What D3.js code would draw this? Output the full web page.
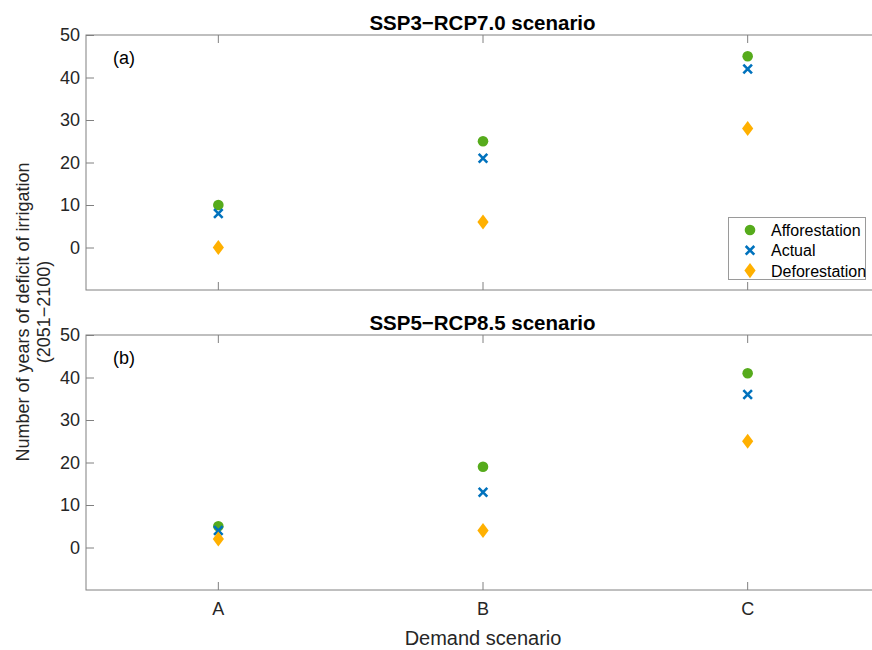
<!DOCTYPE html>
<html>
<head>
<meta charset="utf-8">
<script src="https://cdn.jsdelivr.net/npm/d3@7"></script>
<style>
  html, body { margin: 0; padding: 0; background: #fff; }
  svg { display: block; font-family: "Liberation Sans", Arial, Helvetica, sans-serif; }
</style>
</head>
<body>
<svg id="chart" width="872" height="650"></svg>
<script>
// Demand scenarios on the x axis
const categories = ["A", "B", "C"];
const yTicks = [0, 10, 20, 30, 40, 50];

// Panel (a): SSP3-RCP7.0
const ssp3Afforestation = [10, 25, 45];
const ssp3Actual        = [8, 21, 42];
const ssp3Deforestation = [0, 6, 28];

// Panel (b): SSP5-RCP8.5
const ssp5Afforestation = [5, 19, 41];
const ssp5Actual        = [4, 13, 36];
const ssp5Deforestation = [2, 4, 25];

const seriesNames = ["Afforestation", "Actual", "Deforestation"];

const panels = [
  { title: "SSP3\u2212RCP7.0 scenario", tag: "(a)", top: 35,
    series: [ssp3Afforestation, ssp3Actual, ssp3Deforestation], legend: true, xLabels: false },
  { title: "SSP5\u2212RCP8.5 scenario", tag: "(b)", top: 335,
    series: [ssp5Afforestation, ssp5Actual, ssp5Deforestation], legend: false, xLabels: true }
];

const colors = { Afforestation: "#56AB1C", Actual: "#0072BD", Deforestation: "#FFB000" };
const axisColor = "#808080";
const textColor = "#262626";

const left = 86, right = 880, panelH = 255;
const svg = d3.select("#chart");

const x = d3.scaleBand().domain(categories).range([left, right]).paddingInner(0).paddingOuter(0);
const cx = c => x(c) + x.bandwidth() / 2;

// Marker drawers
function drawMarker(g, name, px, py) {
  const col = colors[name];
  if (name === "Afforestation") {
    g.append("circle").attr("cx", px).attr("cy", py).attr("r", 5.3).attr("fill", col);
  } else if (name === "Actual") {
    const s = 4.3;
    g.append("path")
      .attr("d", `M${px - s},${py - s}L${px + s},${py + s}M${px - s},${py + s}L${px + s},${py - s}`)
      .attr("stroke", col).attr("stroke-width", 2.6).attr("fill", "none");
  } else {
    const w = 5.6, h = 7.6;
    g.append("path")
      .attr("d", `M${px},${py - h}L${px + w},${py}L${px},${py + h}L${px - w},${py}Z`)
      .attr("fill", col);
  }
}

panels.forEach(p => {
  const bottom = p.top + panelH;
  const y = d3.scaleLinear().domain([-10, 50]).range([bottom, p.top]);
  const g = svg.append("g");

  // Box
  g.append("rect").attr("x", left).attr("y", p.top)
    .attr("width", right - left).attr("height", panelH)
    .attr("fill", "none").attr("stroke", axisColor).attr("stroke-width", 1);

  // Left axis with inward ticks
  const ay = g.append("g").attr("transform", `translate(${left},0)`)
    .call(d3.axisLeft(y).tickValues(yTicks).tickSize(-8).tickPadding(6).tickFormat(d3.format("d")));
  ay.select(".domain").remove();
  ay.selectAll(".tick line").attr("stroke", axisColor);
  ay.selectAll(".tick text").attr("fill", textColor).attr("font-size", 18)
    .attr("font-family", "Liberation Sans, Arial, sans-serif");

  // Right axis ticks
  const ar = g.append("g").attr("transform", `translate(${right},0)`)
    .call(d3.axisRight(y).tickValues(yTicks).tickSize(-8).tickFormat(""));
  ar.select(".domain").remove();
  ar.selectAll(".tick line").attr("stroke", axisColor);

  // Top axis ticks
  const at = g.append("g").attr("transform", `translate(0,${p.top})`)
    .call(d3.axisTop(x).tickSize(-8).tickFormat("").offset(0));
  at.select(".domain").remove();
  at.selectAll(".tick").attr("transform", d => `translate(${cx(d)},0)`);
  at.selectAll(".tick line").attr("stroke", axisColor);

  // Bottom axis ticks (labels only on the lower panel)
  const ab = g.append("g").attr("transform", `translate(0,${bottom})`)
    .call(d3.axisBottom(x).tickSize(-8).tickPadding(12).offset(0)
      .tickFormat(p.xLabels ? (d => d) : ""));
  ab.select(".domain").remove();
  ab.selectAll(".tick").attr("transform", d => `translate(${cx(d)},0)`);
  ab.selectAll(".tick line").attr("stroke", axisColor);
  ab.selectAll(".tick text").attr("fill", textColor).attr("font-size", 18)
    .attr("font-family", "Liberation Sans, Arial, sans-serif");

  // Title
  g.append("text").attr("x", (left + 880) / 2 - 0.5).attr("y", p.top - 5)
    .attr("text-anchor", "middle").attr("font-weight", "bold").attr("font-size", 20.5)
    .attr("fill", "#000").text(p.title);

  // Panel tag
  g.append("text").attr("x", 113).attr("y", p.top + 29)
    .attr("font-size", 18).attr("fill", "#000").text(p.tag);

  // Markers
  p.series.forEach((vals, si) => {
    const name = seriesNames[si];
    vals.forEach((v, i) => drawMarker(g, name, cx(categories[i]), y(v)));
  });

  // Legend
  if (p.legend) {
    const lg = g.append("g");
    lg.append("rect").attr("x", 728.5).attr("y", 217.5).attr("width", 137).attr("height", 62)
      .attr("fill", "#fff").attr("stroke", "#9a9a9a").attr("stroke-width", 1);
    seriesNames.forEach((name, i) => {
      const ry = 230 + i * 20.3;
      drawMarker(lg, name, 750, ry);
      lg.append("text").attr("x", 771).attr("y", ry + 6).attr("font-size", 16)
        .attr("fill", "#000").text(name);
    });
  }
});

// Shared labels
svg.append("text").attr("x", 483).attr("y", 645).attr("text-anchor", "middle")
  .attr("font-size", 20).attr("fill", textColor).text("Demand scenario");

const yl = svg.append("text").attr("transform", "translate(29,312) rotate(-90)")
  .attr("text-anchor", "middle").attr("font-size", 18).attr("fill", textColor);
yl.append("tspan").attr("x", 0).attr("dy", 0).text("Number of years of deficit of irrigation");
yl.append("tspan").attr("x", 0).attr("dy", 21).text("(2051\u22122100)");
</script>
</body>
</html>
